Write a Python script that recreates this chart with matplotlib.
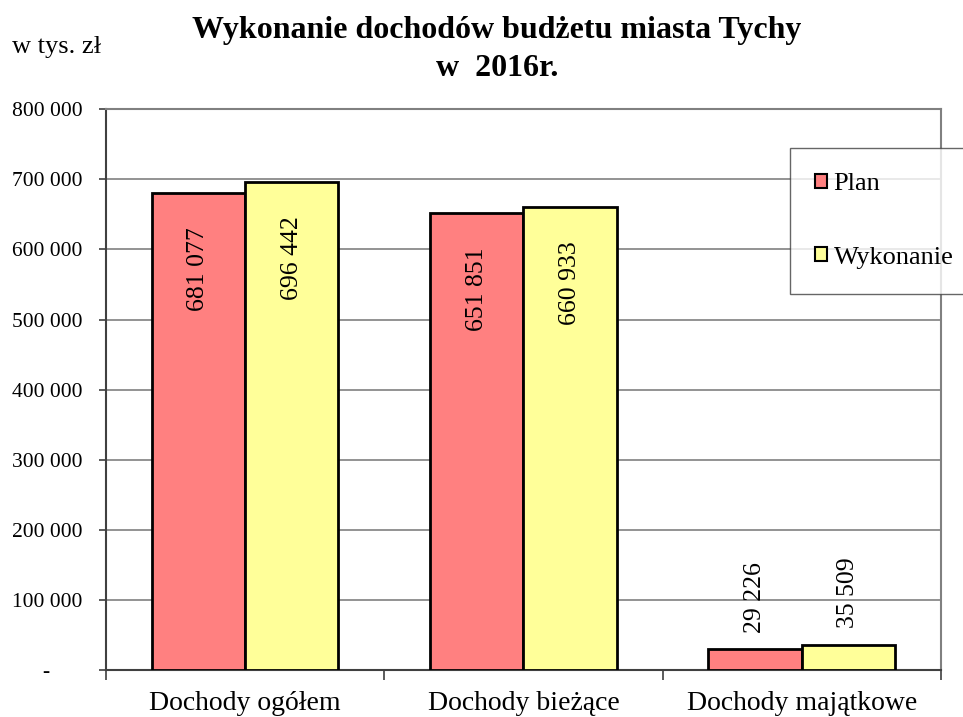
import numpy as np
import matplotlib.pyplot as plt
from matplotlib.patches import Patch

# Dane (w tys. zł)
kategorie = ['Dochody ogółem', 'Dochody bieżące', 'Dochody majątkowe']
plan = [681077, 651851, 29226]
wykonanie = [696442, 660933, 35509]
serie = ['Plan', 'Wykonanie']
kolory = ['#FF8080', '#FFFF99']

plt.rcParams['font.family'] = ['Liberation Serif', 'DejaVu Serif']

def fmt(v):
    return '{:,}'.format(v).replace(',', ' ')

fig = plt.figure(figsize=(9.63, 7.17), dpi=100)
ax = fig.add_axes([0.110, 0.0656, 0.867, 0.782])

x = np.arange(len(kategorie))
w = 0.335
b1 = ax.bar(x - w / 2, plan, w, color=kolory[0], edgecolor='black', linewidth=2, zorder=3)
b2 = ax.bar(x + w / 2, wykonanie, w, color=kolory[1], edgecolor='black', linewidth=2, zorder=3)

# Etykiety wartości
for bars, vals in [(b1, plan), (b2, wykonanie)]:
    for rect, v in zip(bars, vals):
        cx = rect.get_x() + rect.get_width() / 2
        if v > 100000:
            ax.annotate(fmt(v), (cx, v), xytext=(0, -25), textcoords='offset points',
                        rotation=90, ha='center', va='top', fontsize=18.5, zorder=4)
        else:
            ax.annotate(fmt(v), (cx, v), xytext=(0, 12), textcoords='offset points',
                        rotation=90, ha='center', va='bottom', fontsize=18.5, zorder=4)

ax.set_xlim(-0.5, 2.5)
ax.set_ylim(0, 800000)
yt = np.arange(0, 800001, 100000)
ax.set_yticks(yt)
ax.set_yticklabels(['-      '] + [fmt(v) for v in yt[1:]], fontsize=15.5)
ax.yaxis.grid(True, color='#808080', linewidth=1.2, zorder=0)
ax.tick_params(axis='y', length=5, width=1.2, color='#404040', pad=12)

ax.set_xticks(x)
ax.set_xticklabels(kategorie, fontsize=20)
ax.set_xticks([-0.5, 0.5, 1.5, 2.5], minor=True)
ax.tick_params(axis='x', which='major', length=0, pad=15)
ax.tick_params(axis='x', which='minor', length=7, width=1.2, color='#404040')

for s in ['top', 'right']:
    ax.spines[s].set_color('#808080')
    ax.spines[s].set_linewidth(1.5)
ax.spines['left'].set_color('#404040')
ax.spines['left'].set_linewidth(1.5)
ax.spines['bottom'].set_color('#404040')
ax.spines['bottom'].set_linewidth(1.5)

uchwyty = [Patch(facecolor=c, edgecolor='black', linewidth=1.5) for c in kolory]
leg = ax.legend(uchwyty, serie, loc='upper left',
                bbox_to_anchor=(790 / 963, 1 - 148 / 717), bbox_transform=fig.transFigure,
                fontsize=19, frameon=True, fancybox=False,
                edgecolor='#404040', handlelength=0.45, handleheight=0.45, handletextpad=0.25,
                labelspacing=1.95, borderpad=0.95, borderaxespad=0)
leg.get_frame().set_linewidth(1.0)

fig.text(0.516, 0.978, 'Wykonanie dochodów budżetu miasta Tychy\nw  2016r.', ha='center', va='top',
         fontsize=23, fontweight='bold', linespacing=1.42)
fig.text(0.012, 0.934, 'w tys. zł', ha='left', va='center', fontsize=19)

fig.savefig('out.png', dpi=100)
